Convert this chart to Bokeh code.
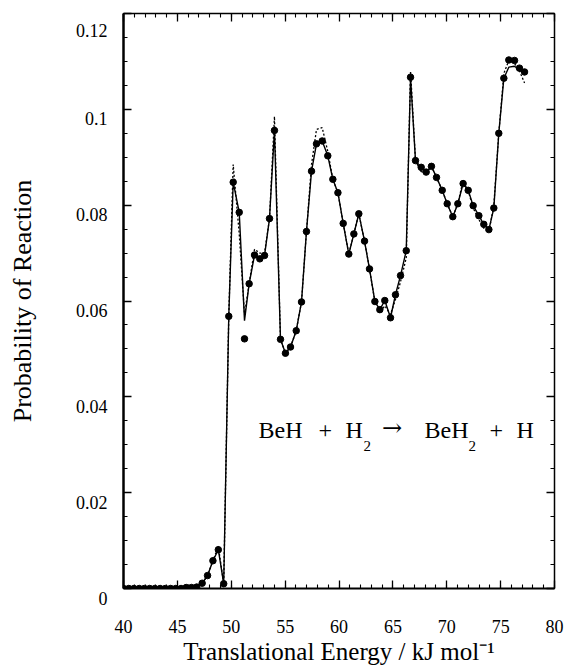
from bokeh.plotting import figure
from bokeh.models import LinearAxis, FixedTicker, Range1d, Label, CustomJSTickFormatter
from bokeh.embed import file_html
from bokeh.resources import INLINE

# ---------------- data ----------------
energy = [40.0, 40.49, 40.97, 41.46, 41.94, 42.43, 42.91, 43.40, 43.88, 44.37,
          44.85, 45.34, 45.82, 46.31, 46.79, 47.3, 47.8, 48.3, 48.8, 49.3,
          49.77, 50.18, 50.74, 51.23, 51.66, 52.16, 52.65, 53.09, 53.55, 54.01,
          54.57, 55.03, 55.5, 56.03, 56.52, 56.98, 57.45, 57.91, 58.44, 58.96,
          59.43, 59.9, 60.39, 60.91, 61.38, 61.84, 62.37, 62.83, 63.33, 63.79,
          64.25, 64.78, 65.24, 65.71, 66.24, 66.64, 67.1, 67.63, 68.09, 68.58,
          69.05, 69.58, 70.04, 70.56, 71.03, 71.52, 71.99, 72.45, 72.98, 73.44,
          73.91, 74.37, 74.83, 75.3, 75.76, 76.29, 76.75, 77.22]

prob_points = [0.0, 0.0, 0.0, 0.0, 0.0, 0.0, 0.0, 0.0, 0.0, 0.0,
               0.0, 0.0, 0.0002, 0.0002, 0.0003, 0.0011, 0.0027, 0.0058, 0.0081, 0.0010,
               0.0568, 0.0848, 0.0785, 0.0521, 0.0636, 0.0696, 0.0688, 0.0695, 0.0772, 0.0956,
               0.0520, 0.0491, 0.0504, 0.0538, 0.0598, 0.0745, 0.0871, 0.0928, 0.0934, 0.0903,
               0.0854, 0.0826, 0.0762, 0.0698, 0.0740, 0.0782, 0.0725, 0.0667, 0.0599, 0.0582,
               0.0601, 0.0565, 0.0613, 0.0653, 0.0705, 0.1067, 0.0893, 0.0879, 0.0869, 0.0881,
               0.0858, 0.0831, 0.0803, 0.0776, 0.0803, 0.0845, 0.0831, 0.0799, 0.0778, 0.0760,
               0.0749, 0.0794, 0.0950, 0.1065, 0.1103, 0.1102, 0.1086, 0.1078]

prob_solid = [0.0, 0.0, 0.0, 0.0, 0.0, 0.0, 0.0, 0.0, 0.0, 0.0,
              0.0, 0.0, 0.0002, 0.0002, 0.0003, 0.0011, 0.0027, 0.0058, 0.0081, 0.0010,
              0.0568, 0.0848, 0.0785, 0.0559, 0.0636, 0.0696, 0.0688, 0.0695, 0.0772, 0.0956,
              0.0520, 0.0491, 0.0504, 0.0538, 0.0598, 0.0745, 0.0871, 0.0928, 0.0934, 0.0903,
              0.0854, 0.0826, 0.0762, 0.0698, 0.0740, 0.0782, 0.0725, 0.0667, 0.0599, 0.0582,
              0.0601, 0.0565, 0.0613, 0.0653, 0.0705, 0.1067, 0.0893, 0.0870, 0.0868, 0.0881,
              0.0858, 0.0831, 0.0803, 0.0776, 0.0803, 0.0845, 0.0831, 0.0799, 0.0778, 0.0760,
              0.0749, 0.0794, 0.0950, 0.1065, 0.1088, 0.1090, 0.1082, 0.1075]

prob_dotted = [0.0, 0.0, 0.0, 0.0, 0.0, 0.0, 0.0, 0.0, 0.0, 0.0,
               0.0, 0.0, 0.0002, 0.0002, 0.0003, 0.0011, 0.0027, 0.0058, 0.0088, 0.0010,
               0.0568, 0.0885, 0.0740, 0.0572, 0.0636, 0.0708, 0.0700, 0.0700, 0.0772, 0.0985,
               0.0520, 0.0491, 0.0504, 0.0538, 0.0598, 0.0745, 0.0885, 0.0958, 0.0962, 0.0912,
               0.0854, 0.0826, 0.0762, 0.0698, 0.0740, 0.0782, 0.0725, 0.0667, 0.0599, 0.0575,
               0.0590, 0.0572, 0.0603, 0.0640, 0.0690, 0.1080, 0.0893, 0.0879, 0.0869, 0.0881,
               0.0858, 0.0831, 0.0803, 0.0776, 0.0803, 0.0852, 0.0830, 0.0794, 0.0770, 0.0752,
               0.0744, 0.0800, 0.0950, 0.1075, 0.1102, 0.1096, 0.1080, 0.1055]

x_ticks = [40, 45, 50, 55, 60, 65, 70, 75, 80]
x_minor = list(range(40, 81))
y_ticks = [0, 0.02, 0.04, 0.06, 0.08, 0.1, 0.12]
y_tick_labels = ["0", "0.02", "0.04", "0.06", "0.08", "0.1", "0.12"]
y_minor = [0, 0.005, 0.01, 0.015, 0.02, 0.025, 0.03, 0.035, 0.04, 0.045, 0.05, 0.055,
           0.06, 0.065, 0.07, 0.075, 0.08, 0.085, 0.09, 0.095, 0.1, 0.105, 0.11, 0.115, 0.12]

x_title = "Translational Energy / kJ mol\u207b\u00b9"
y_title = "Probability of Reaction"

FONT = "Liberation Serif"

p = figure(width=565, height=669, output_backend="svg", toolbar_location=None,
           x_range=Range1d(40, 80), y_range=Range1d(0, 0.12),
           min_border_left=123, min_border_right=11, min_border_top=13, min_border_bottom=81)
p.background_fill_color = "white"
p.border_fill_color = "white"
p.outline_line_color = None
p.xgrid.visible = False
p.ygrid.visible = False

xt = FixedTicker(ticks=x_ticks, minor_ticks=x_minor)
yt = FixedTicker(ticks=y_ticks, minor_ticks=y_minor)
blank = CustomJSTickFormatter(code="return '';")
# a leading empty line drops each y label a little below its tick, as in the original
overrides = {v: "\n" + s for v, s in zip(y_ticks, y_tick_labels)}


def style_axis(ax, lw):
    ax.axis_line_color = "black"
    ax.axis_line_width = lw
    ax.major_tick_in = 8
    ax.major_tick_out = 0
    ax.minor_tick_in = 4
    ax.minor_tick_out = 0
    ax.major_tick_line_width = 1.3
    ax.minor_tick_line_width = 1.1
    ax.major_tick_line_color = "black"
    ax.minor_tick_line_color = "black"


bx = p.xaxis[0]
bx.ticker = xt
style_axis(bx, 2)
bx.major_label_text_font = FONT
bx.major_label_text_font_size = "18px"
bx.major_label_text_color = "black"
bx.major_label_standoff = 31
bx.axis_label = x_title
bx.axis_label_text_font = FONT
bx.axis_label_text_font_size = "25px"
bx.axis_label_text_font_style = "normal"
bx.axis_label_text_color = "black"
bx.axis_label_standoff = 2

ly = p.yaxis[0]
ly.ticker = yt
style_axis(ly, 2.5)
ly.major_label_overrides = overrides
ly.major_label_text_font = FONT
ly.major_label_text_font_size = "18px"
ly.major_label_text_line_height = 1.0
ly.major_label_text_color = "black"
ly.major_label_standoff = 16
ly.axis_label = y_title
ly.axis_label_text_font = FONT
ly.axis_label_text_font_size = "26px"
ly.axis_label_text_font_style = "normal"
ly.axis_label_text_color = "black"
ly.axis_label_standoff = 36

ra = LinearAxis(ticker=yt, formatter=blank, major_label_standoff=0)
style_axis(ra, 1.5)
p.add_layout(ra, "right")
ta = LinearAxis(ticker=xt, formatter=blank, major_label_standoff=0)
style_axis(ta, 1.5)
p.add_layout(ta, "above")

# curves and points
p.line(energy, prob_dotted, line_color="black", line_width=1.3, line_dash="2 2")
p.line(energy, prob_solid, line_color="black", line_width=1.4)
p.scatter(energy, prob_points, size=6.5, marker="circle", fill_color="black", line_color="black")

# reaction annotation
pieces = [("BeH", 52.53, 0.0330, "24px", FONT), ("+", 58.10, 0.0330, "24px", FONT),
          ("H", 60.60, 0.0330, "24px", FONT), ("2", 62.27, 0.0298, "15px", FONT),
          ("\u2192", 64.0, 0.0336, "24px", "DejaVu Serif"), ("BeH", 67.94, 0.0330, "24px", FONT),
          ("2", 72.02, 0.0298, "15px", FONT), ("+", 73.97, 0.0330, "24px", FONT),
          ("H", 76.47, 0.0330, "24px", FONT)]
for t, x, y, fs, fnt in pieces:
    p.add_layout(Label(x=x, y=y, text=t, text_font=fnt, text_font_size=fs,
                       text_color="black", text_baseline="alphabetic", text_align="left"))

open("out.html", "w").write(file_html(p, INLINE))
